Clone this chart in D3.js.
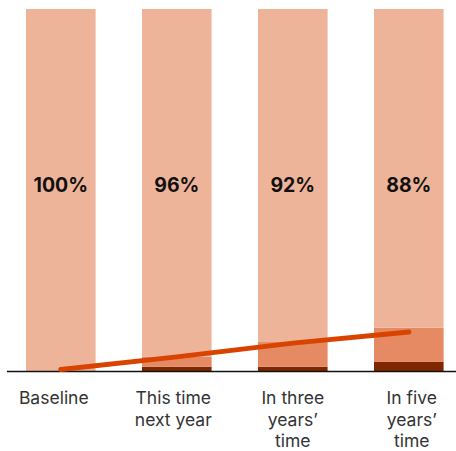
<!DOCTYPE html>
<html>
<head>
<meta charset="utf-8">
<script src="https://cdn.jsdelivr.net/npm/d3@7"></script>
<style>
  html, body { margin: 0; padding: 0; background: #fff; }
  svg { display: block; }
</style>
</head>
<body>
<svg id="chart" width="456" height="451"></svg>
<script>
// Categories and stacked shares (percent of baseline)
const categories = ["Baseline", "This time next year", "In three years’ time", "In five years’ time"];
const categoryLines = [["Baseline"], ["This time", "next year"], ["In three", "years’", "time"], ["In five", "years’", "time"]];
const remaining = [100, 96, 92, 88];
const middleShare = [0, 2.8, 6.8, 9.4];
const darkShare = [0, 1.2, 1.2, 2.6];
const trendLine = [0.4, 3.9, 7.7, 10.8];
const labels = ["100%", "96%", "92%", "88%"];

const svg = d3.select("#chart");
const baseY = 371, topY = 9;

const x = d3.scaleBand()
  .domain(categories)
  .range([2.8, 466.8])
  .paddingInner(0.4)
  .paddingOuter(0.2);

const y = d3.scaleLinear().domain([0, 100]).range([baseY, topY]);

const rows = categories.map((c, i) => ({
  cat: c, dark: darkShare[i], middle: middleShare[i], light: remaining[i]
}));
const stack = d3.stack().keys(["dark", "middle", "light"]);
const series = stack(rows);
const colors = { dark: "#7f2700", middle: "#e68a63", light: "#eeb49a" };

svg.append("g")
  .selectAll("g")
  .data(series)
  .join("g")
  .attr("fill", d => colors[d.key])
  .selectAll("rect")
  .data(d => d)
  .join("rect")
  .attr("x", d => x(d.data.cat))
  .attr("width", x.bandwidth())
  .attr("y", d => y(d[1]))
  .attr("height", d => y(d[0]) - y(d[1]));

// Value labels
svg.append("g")
  .selectAll("text")
  .data(labels)
  .join("text")
  .attr("x", (d, i) => x(categories[i]) + x.bandwidth() / 2)
  .attr("y", 192)
  .attr("text-anchor", "middle")
  .attr("font-family", "Inter, 'DejaVu Sans', sans-serif")
  .attr("font-weight", 700)
  .attr("font-size", 19.5)
  .attr("fill", "#111")
  .text(d => d);

// Axis baseline
svg.append("line")
  .attr("x1", 7).attr("x2", 456)
  .attr("y1", baseY + 0.5).attr("y2", baseY + 0.5)
  .attr("stroke", "#111")
  .attr("stroke-width", 1.5);

// Trend line
const line = d3.line()
  .x((d, i) => x(categories[i]) + x.bandwidth() / 2)
  .y(d => y(d));
svg.append("path")
  .datum(trendLine)
  .attr("d", line)
  .attr("fill", "none")
  .attr("stroke", "#d84300")
  .attr("stroke-width", 5)
  .attr("stroke-linecap", "round");

// Category labels
const labelShift = [-7, -3.5, 0, 3];
const catG = svg.append("g")
  .selectAll("text")
  .data(categoryLines)
  .join("text")
  .attr("x", (d, i) => x(categories[i]) + x.bandwidth() / 2 + labelShift[i])
  .attr("y", 404)
  .attr("text-anchor", "middle")
  .attr("font-family", "Inter, 'DejaVu Sans', sans-serif")
  .attr("font-size", 17.5)
  .attr("fill", "#333");
catG.selectAll("tspan")
  .data(d => d)
  .join("tspan")
  .attr("x", function () { return d3.select(this.parentNode).attr("x"); })
  .attr("dy", (d, i) => i === 0 ? 0 : 21.5)
  .text(d => d);
</script>
</body>
</html>
